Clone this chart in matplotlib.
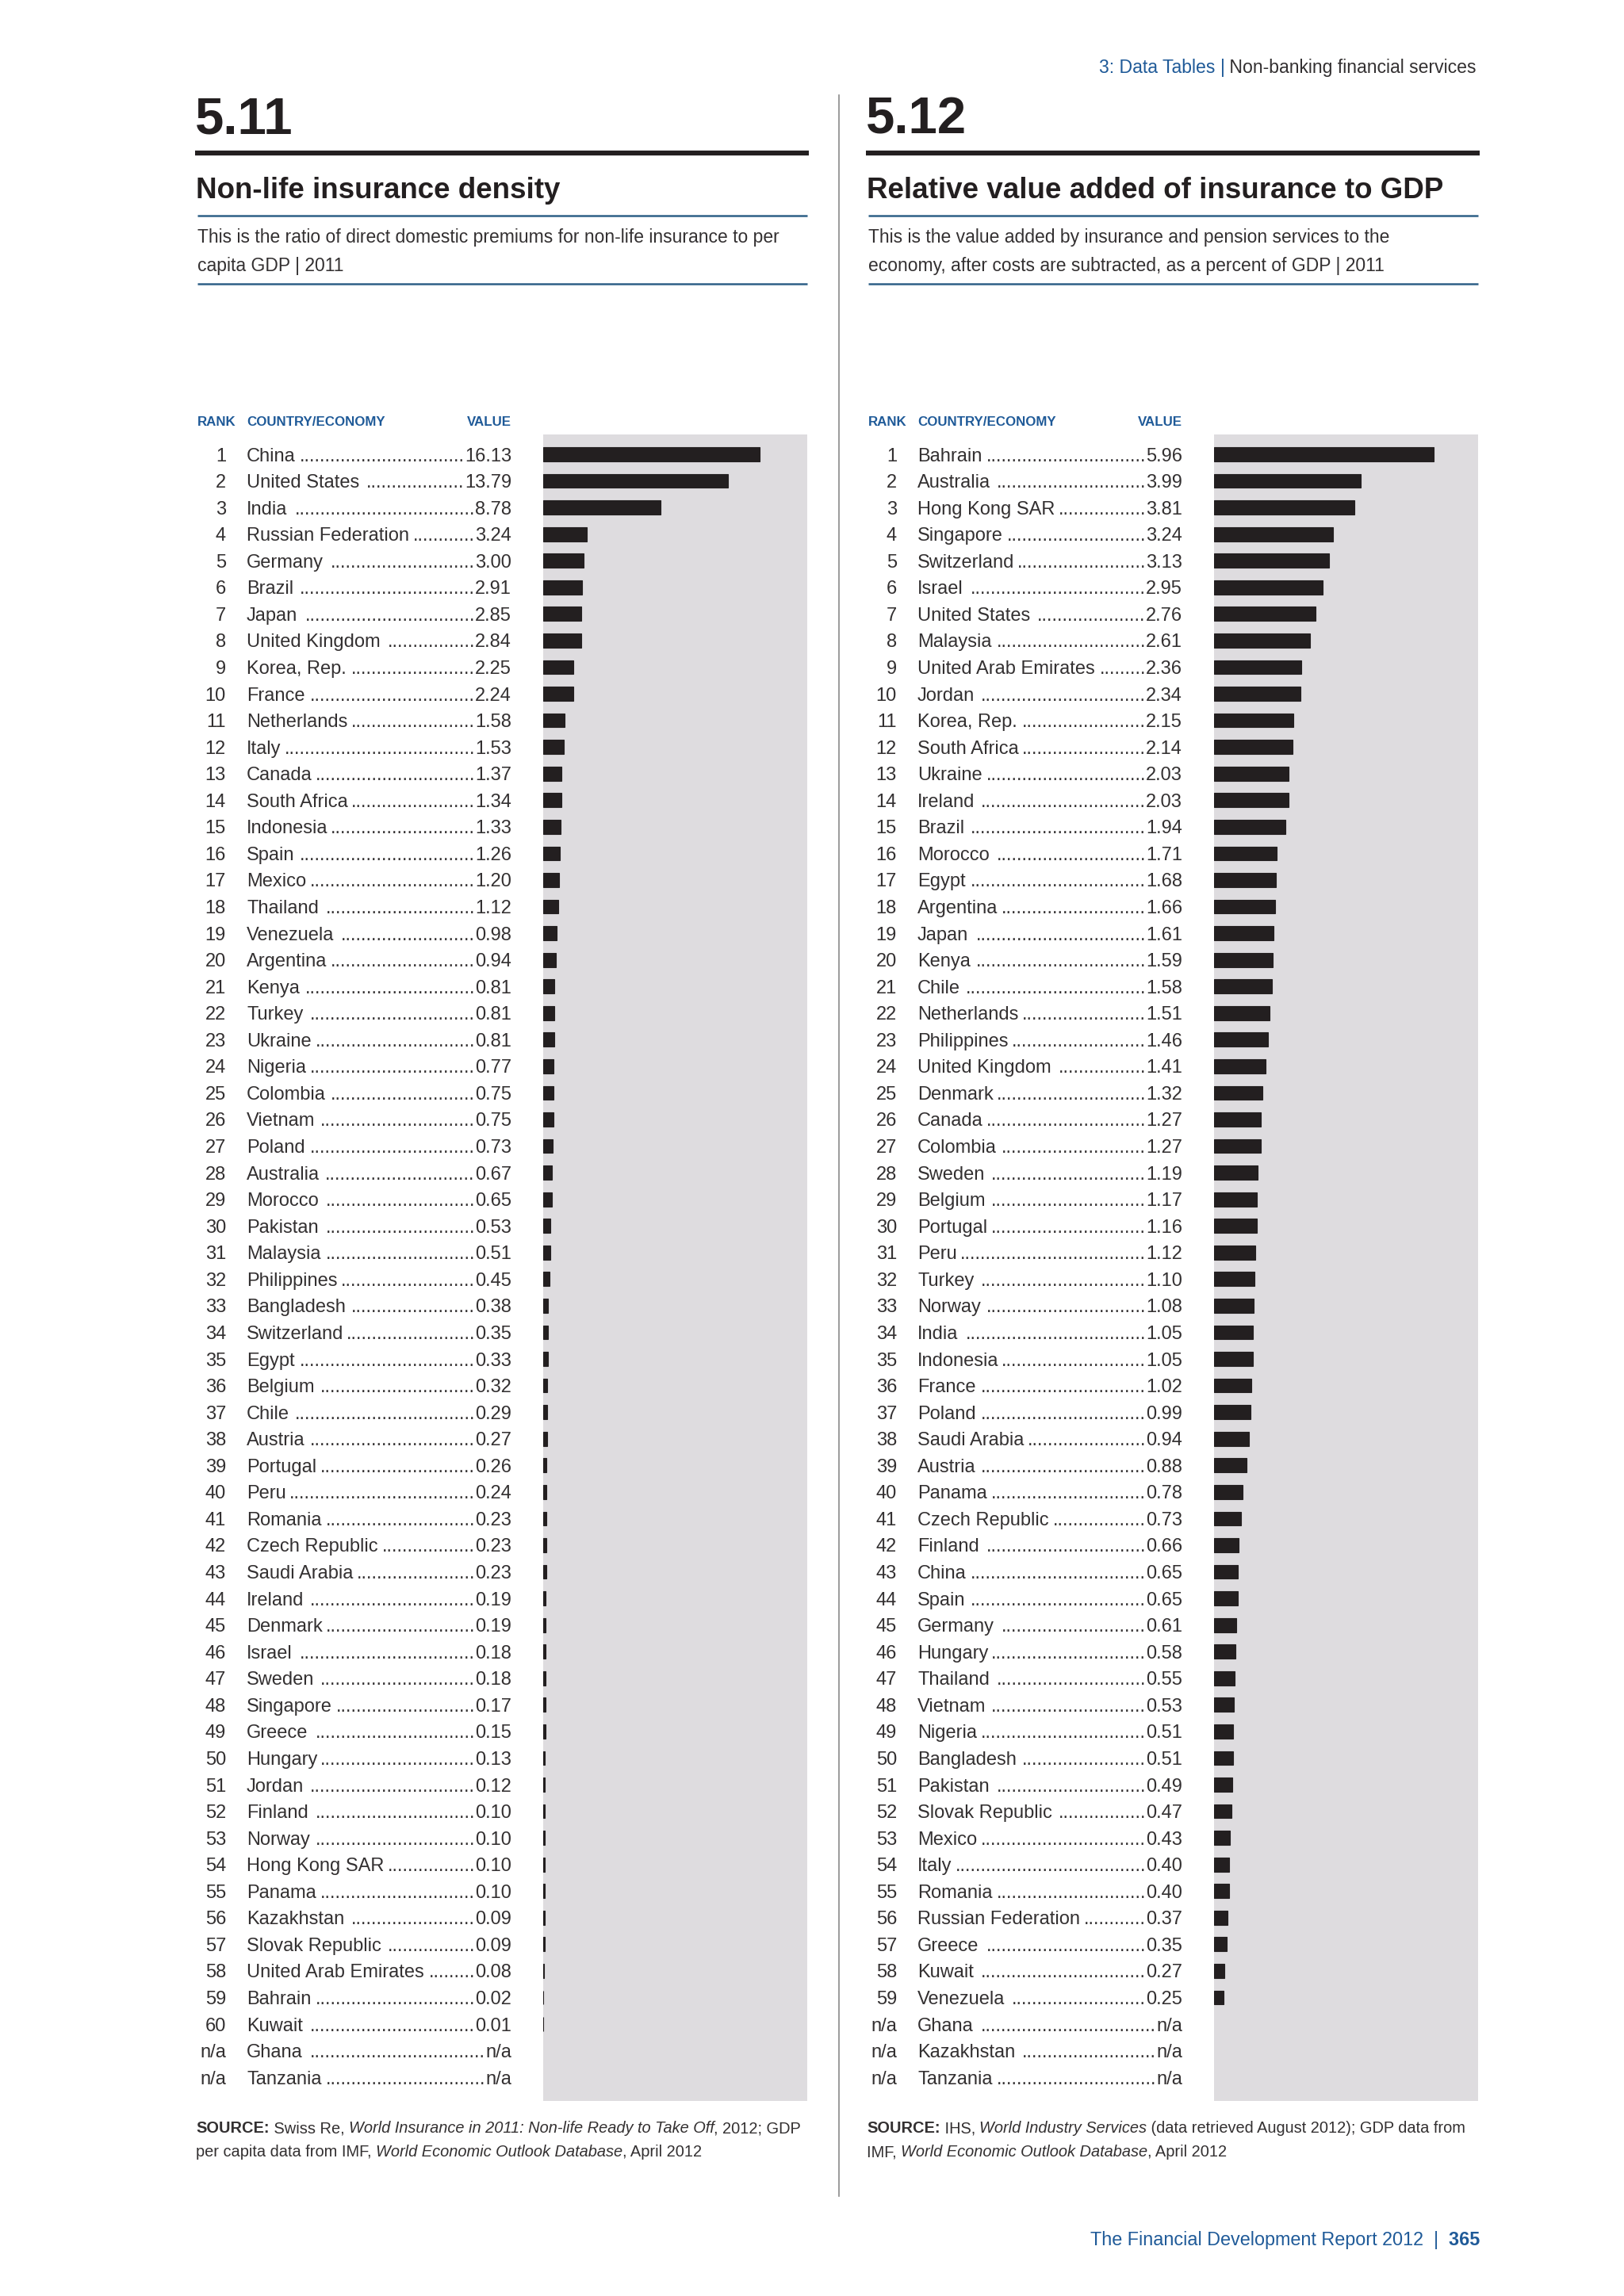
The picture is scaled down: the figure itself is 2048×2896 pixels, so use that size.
import matplotlib
matplotlib.use('Agg')
import matplotlib.pyplot as plt
import matplotlib.transforms as mtransforms

plt.rcParams['font.family'] = ['Liberation Sans', 'DejaVu Sans']

# ---- data -------------------------------------------------------------
left_names = ['China', 'United States', 'India', 'Russian Federation', 'Germany', 'Brazil',
              'Japan', 'United Kingdom', 'Korea, Rep.', 'France', 'Netherlands', 'Italy',
              'Canada', 'South Africa', 'Indonesia', 'Spain', 'Mexico', 'Thailand',
              'Venezuela', 'Argentina', 'Kenya', 'Turkey', 'Ukraine', 'Nigeria', 'Colombia',
              'Vietnam', 'Poland', 'Australia', 'Morocco', 'Pakistan', 'Malaysia',
              'Philippines', 'Bangladesh', 'Switzerland', 'Egypt', 'Belgium', 'Chile',
              'Austria', 'Portugal', 'Peru', 'Romania', 'Czech Republic', 'Saudi Arabia',
              'Ireland', 'Denmark', 'Israel', 'Sweden', 'Singapore', 'Greece', 'Hungary',
              'Jordan', 'Finland', 'Norway', 'Hong Kong SAR', 'Panama', 'Kazakhstan',
              'Slovak Republic', 'United Arab Emirates', 'Bahrain', 'Kuwait', 'Ghana', 'Tanzania']
left_values = [16.13, 13.79, 8.78, 3.24, 3.00, 2.91, 2.85, 2.84, 2.25, 2.24, 1.58, 1.53,
               1.37, 1.34, 1.33, 1.26, 1.20, 1.12, 0.98, 0.94, 0.81, 0.81, 0.81, 0.77, 0.75,
               0.75, 0.73, 0.67, 0.65, 0.53, 0.51, 0.45, 0.38, 0.35, 0.33, 0.32, 0.29,
               0.27, 0.26, 0.24, 0.23, 0.23, 0.23, 0.19, 0.19, 0.18, 0.18, 0.17, 0.15, 0.13,
               0.12, 0.10, 0.10, 0.10, 0.10, 0.09, 0.09, 0.08, 0.02, 0.01, None, None]

right_names = ['Bahrain', 'Australia', 'Hong Kong SAR', 'Singapore', 'Switzerland', 'Israel',
               'United States', 'Malaysia', 'United Arab Emirates', 'Jordan', 'Korea, Rep.',
               'South Africa', 'Ukraine', 'Ireland', 'Brazil', 'Morocco', 'Egypt', 'Argentina',
               'Japan', 'Kenya', 'Chile', 'Netherlands', 'Philippines', 'United Kingdom',
               'Denmark', 'Canada', 'Colombia', 'Sweden', 'Belgium', 'Portugal', 'Peru',
               'Turkey', 'Norway', 'India', 'Indonesia', 'France', 'Poland', 'Saudi Arabia',
               'Austria', 'Panama', 'Czech Republic', 'Finland', 'China', 'Spain', 'Germany',
               'Hungary', 'Thailand', 'Vietnam', 'Nigeria', 'Bangladesh', 'Pakistan',
               'Slovak Republic', 'Mexico', 'Italy', 'Romania', 'Russian Federation', 'Greece',
               'Kuwait', 'Venezuela', 'Ghana', 'Kazakhstan', 'Tanzania']
right_values = [5.96, 3.99, 3.81, 3.24, 3.13, 2.95, 2.76, 2.61, 2.36, 2.34, 2.15, 2.14, 2.03,
                2.03, 1.94, 1.71, 1.68, 1.66, 1.61, 1.59, 1.58, 1.51, 1.46, 1.41, 1.32, 1.27,
                1.27, 1.19, 1.17, 1.16, 1.12, 1.10, 1.08, 1.05, 1.05, 1.02, 0.99, 0.94, 0.88,
                0.78, 0.73, 0.66, 0.65, 0.65, 0.61, 0.58, 0.55, 0.53, 0.51, 0.51, 0.49, 0.47,
                0.43, 0.40, 0.40, 0.37, 0.35, 0.27, 0.25, None, None, None]

# ---- page setup (work in pixel units) ----------------------------------
W, H = 2048, 2896
fig = plt.figure(figsize=(W / 100, H / 100), dpi=100)
bg = fig.add_axes([0, 0, 1, 1])
bg.set_xlim(0, W)
bg.set_ylim(H, 0)
bg.axis('off')
renderer = fig.canvas.get_renderer()

INK = '#333031'
BLUE = '#1f5a98'
RULE_BLUE = '#2e6087'
GREY_BOX = '#dedcdf'


def width_of(txt, **kw):
    # measure with a sentinel so trailing/leading spaces count
    t1 = bg.text(0, 0, txt + '|', **kw)
    t2 = bg.text(0, 0, '|', **kw)
    w = t1.get_window_extent(renderer).width - t2.get_window_extent(renderer).width
    t1.remove()
    t2.remove()
    return w


def runs(x, y, parts, size, color=INK, align='left'):
    widths = [width_of(p[0], fontsize=size, fontweight=p[1], fontstyle=p[2]) for p in parts]
    if align == 'right':
        x = x - sum(widths)
    for (txt, wt, st, *c), w in zip(parts, widths):
        bg.text(x, y, txt, fontsize=size, fontweight=wt, fontstyle=st,
                color=c[0] if c else color, va='center_baseline', ha='left')
        x += w


ROW0, ROWH = 573, 33.56
BOX_TOP, BOX_BOT = 548, 2650
ROW_SIZE = 17


def panel(x0, number, title, desc, names, values, xmax, source):
    # big number, rules, title, description
    bg.text(x0, 145, number, fontsize=47, fontweight='bold', color='#231f20', va='center_baseline')
    bg.plot([x0, x0 + 774], [193, 193], color='#231f20', lw=4.5, solid_capstyle='butt')
    bg.text(x0 + 1, 237, title, fontsize=26.5, fontweight='bold', color='#231f20',
            va='center_baseline')
    bg.plot([x0 + 3, x0 + 772], [272, 272], color=RULE_BLUE, lw=1.8, solid_capstyle='butt')
    for k, line in enumerate(desc):
        bg.text(x0 + 3, 297 + k * 36, line, fontsize=16.5, color=INK, va='center_baseline')
    bg.plot([x0 + 3, x0 + 772], [358, 358], color=RULE_BLUE, lw=1.8, solid_capstyle='butt')

    # column heads
    hk = dict(fontsize=12.2, fontweight='bold', color=BLUE, va='center_baseline')
    bg.text(x0 + 3, 531, 'RANK', **hk)
    bg.text(x0 + 65, 531, 'COUNTRY/ECONOMY', **hk)
    bg.text(x0 + 399, 531, 'VALUE', ha='right', **hk)

    # bar panel
    bx0, bx1 = x0 + 439, x0 + 772
    ax = fig.add_axes([bx0 / W, 1 - BOX_BOT / H, (bx1 - bx0) / W, (BOX_BOT - BOX_TOP) / H])
    ax.set_facecolor(GREY_BOX)
    for s in ax.spines.values():
        s.set_visible(False)
    ax.set_xticks([])
    ax.set_yticks([])
    idx = [i for i, v in enumerate(values) if v is not None]
    ax.barh(idx, [values[i] for i in idx], height=0.53, color='#231f20',
            edgecolor='#231f20', lw=0.8)
    ax.set_xlim(0, xmax)
    ax.set_ylim((BOX_BOT - ROW0) / ROWH, (BOX_TOP - ROW0) / ROWH)

    trans = mtransforms.blended_transform_factory(bg.transData, ax.transData)
    dot_w = width_of('.' * 40, fontsize=ROW_SIZE) / 40
    rank = 0
    for i, (name, v) in enumerate(zip(names, values)):
        if v is None:
            rtxt, vtxt = 'n/a', 'n/a'
        else:
            rank += 1
            rtxt, vtxt = str(rank), f'{v:.2f}'
        kw = dict(fontsize=ROW_SIZE, color=INK, va='center_baseline', transform=trans)
        bg.text(x0 + 39, i, rtxt, ha='right', **kw)
        tn = bg.text(x0 + 65, i, name, ha='left', **kw)
        tv = bg.text(x0 + 399, i, vtxt, ha='right', **kw)
        name_r = x0 + 65 + tn.get_window_extent(renderer).width
        val_l = x0 + 399 - tv.get_window_extent(renderer).width
        ndots = int((val_l - name_r - 3) / dot_w)
        if ndots > 0:
            bg.text(val_l, i, '.' * ndots, ha='right', **kw)

    # source note
    for k, parts in enumerate(source):
        runs(x0 + 1, 2683 + k * 30, parts, 14.4)


panel(246, '5.11', 'Non-life insurance density',
      ['This is the ratio of direct domestic premiums for non-life insurance to per',
       'capita GDP | 2011'],
      left_names, left_values, 19.7,
      [[('SOURCE:', 'bold', 'normal'), (' Swiss Re, ', 'normal', 'normal'),
        ('World Insurance in 2011: Non-life Ready to Take Off', 'normal', 'italic'),
        (', 2012; GDP', 'normal', 'normal')],
       [('per capita data from IMF, ', 'normal', 'normal'),
        ('World Economic Outlook Database', 'normal', 'italic'),
        (', April 2012', 'normal', 'normal')]])

panel(1092, '5.12', 'Relative value added of insurance to GDP',
      ['This is the value added by insurance and pension services to the',
       'economy, after costs are subtracted, as a percent of GDP | 2011'],
      right_names, right_values, 7.17,
      [[('SOURCE:', 'bold', 'normal'), (' IHS, ', 'normal', 'normal'),
        ('World Industry Services', 'normal', 'italic'),
        (' (data retrieved August 2012); GDP data from', 'normal', 'normal')],
       [('IMF, ', 'normal', 'normal'),
        ('World Economic Outlook Database', 'normal', 'italic'),
        (', April 2012', 'normal', 'normal')]])

# separator between the two tables
bg.plot([1058, 1058], [120, 2770], color='#8a8a8a', lw=1.2)

# running header and footer
runs(1862, 83, [('3: Data Tables ', 'normal', 'normal', BLUE), ('|', 'normal', 'normal', BLUE),
                (' Non-banking financial services', 'normal', 'normal', INK)], 16.6, align='right')
runs(1866, 2823, [('The Financial Development Report 2012  ', 'normal', 'normal', BLUE),
                  ('|', 'normal', 'normal', BLUE),
                  ('  365', 'bold', 'normal', BLUE)], 16.8, align='right')

fig.savefig('out.png', dpi=100, facecolor='white')
